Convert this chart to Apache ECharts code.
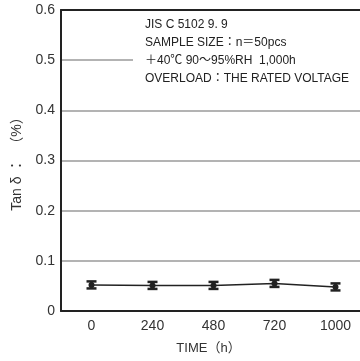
<!DOCTYPE html>
<html>
<head>
<meta charset="utf-8">
<script src="https://cdn.jsdelivr.net/npm/echarts@6/dist/echarts.min.js"></script>
<style>html,body{margin:0;padding:0;background:#fff;}#c{width:360px;height:361px;}</style>
</head>
<body>
<div id="c"></div>
<script>
const categories = ['0', '240', '480', '720', '1000'];
const tanDelta = [0.052, 0.051, 0.051, 0.055, 0.048];
const errHalf = [0.007, 0.007, 0.007, 0.007, 0.007];
const noteLines = [
  'JIS C 5102 9. 9',
  'SAMPLE SIZE：n＝50pcs',
  '＋40℃ 90～95%RH  1,000h',
  'OVERLOAD：THE RATED VOLTAGE'
];
const yName = 'Tan δ ：  （%）';
const xName = 'TIME（h）';

const font = '"Liberation Sans", Arial, Helvetica, "Noto Sans CJK JP", sans-serif';
const cjkFont = '"Liberation Sans", "Noto Sans CJK JP", sans-serif';
const chart = echarts.init(document.getElementById('c'));
const errData = categories.map((c, i) => [i, tanDelta[i] - errHalf[i], tanDelta[i] + errHalf[i]]);

chart.setOption({
  animation: false,
  grid: { left: 61, right: -6, top: 10, bottom: 50, outerBoundsMode: 'none', containLabel: false },
  xAxis: [{
    type: 'category', data: categories, boundaryGap: true,
    axisLine: { lineStyle: { color: '#222', width: 2 } },
    axisTick: { show: false },
    axisLabel: { color: '#333', fontSize: 14, fontFamily: font, margin: 8 },
    name: xName, nameLocation: 'middle', nameGap: 31,
    nameTextStyle: { color: '#333', fontSize: 13, fontFamily: cjkFont, padding: [0, 10, 0, 0] }
  }, {
    type: 'category', data: categories, position: 'top',
    axisLine: { lineStyle: { color: '#222', width: 2 } },
    axisTick: { show: false }, axisLabel: { show: false }
  }],
  yAxis: {
    type: 'value', min: 0, max: 0.6, interval: 0.1,
    axisLine: { show: true, lineStyle: { color: '#222', width: 2 } },
    axisTick: { show: false },
    axisLabel: { color: '#333', fontSize: 14, fontFamily: font, margin: 6 },
    splitLine: { lineStyle: { color: '#9a9a9a', width: 1.5 } },
    name: yName, nameLocation: 'middle', nameGap: 36,
    nameTextStyle: { color: '#333', fontSize: 14, fontFamily: cjkFont }
  },
  graphic: [{
    type: 'rect', z: 50, left: 133, top: 13, shape: { width: 230, height: 76 },
    style: { fill: '#fff' }
  }, {
    type: 'text', z: 51, left: 145, top: 16,
    style: { text: noteLines.join('\n'), font: '12px ' + font, fill: '#222', lineHeight: 18 }
  }],
  series: [{
    type: 'line', data: tanDelta, xAxisIndex: 0,
    symbol: 'circle', symbolSize: 6,
    lineStyle: { color: '#222', width: 1.5 },
    itemStyle: { color: '#222' }, z: 5
  }, {
    type: 'custom', xAxisIndex: 0, data: errData, z: 6,
    renderItem: function (params, api) {
      const x = api.value(0);
      const lo = api.coord([x, api.value(1)]);
      const hi = api.coord([x, api.value(2)]);
      const w = 5;
      const st = { stroke: '#222', lineWidth: 2.5 };
      return {
        type: 'group', children: [
          { type: 'line', shape: { x1: lo[0], y1: lo[1], x2: hi[0], y2: hi[1] }, style: st },
          { type: 'line', shape: { x1: lo[0] - w, y1: lo[1], x2: lo[0] + w, y2: lo[1] }, style: st },
          { type: 'line', shape: { x1: hi[0] - w, y1: hi[1], x2: hi[0] + w, y2: hi[1] }, style: st }
        ]
      };
    }
  }]
});
</script>
</body>
</html>
